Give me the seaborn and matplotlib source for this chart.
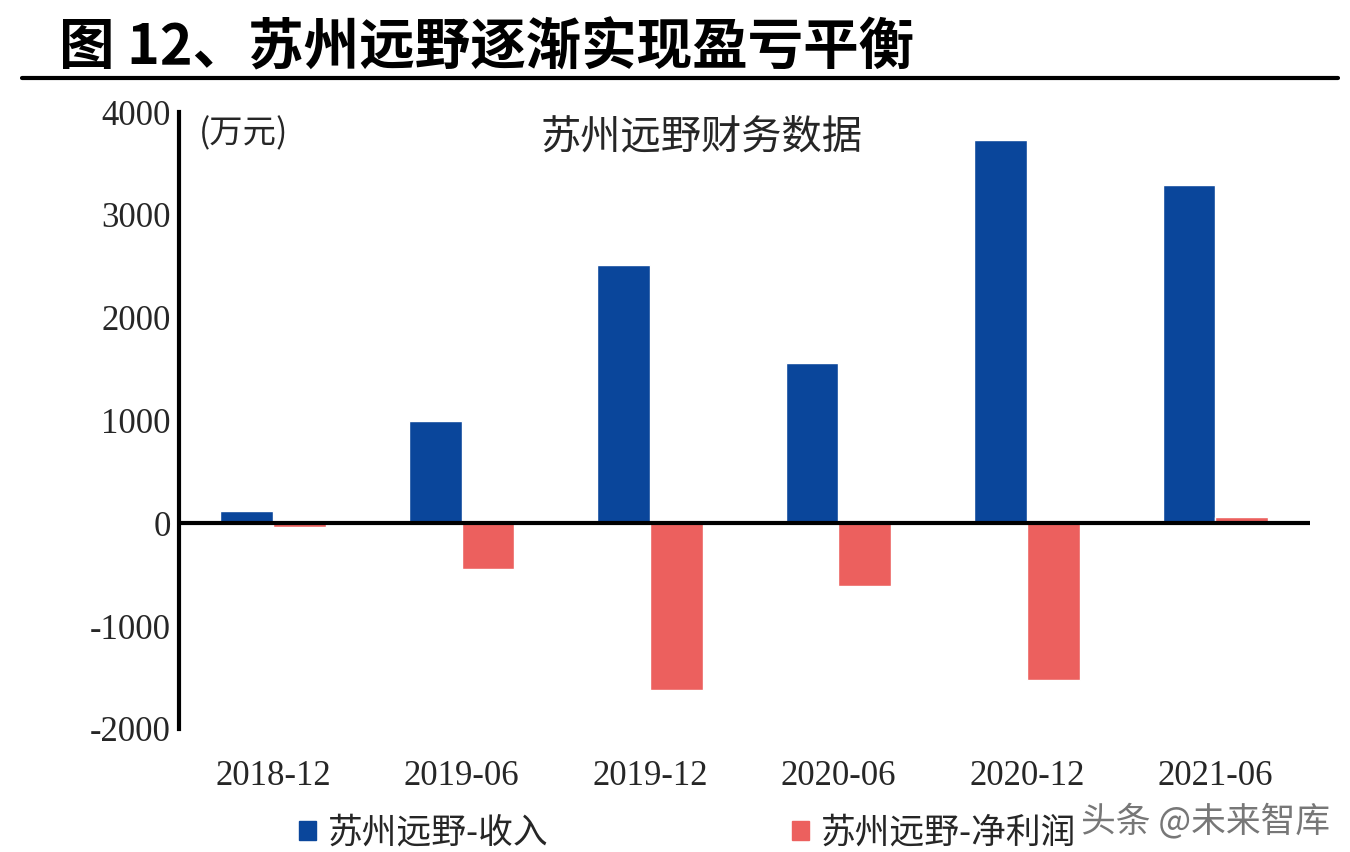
import numpy as np
import pandas as pd
import matplotlib
matplotlib.use("Agg")
import matplotlib.pyplot as plt
import seaborn as sns
from matplotlib.patches import Patch

# data (万元)
periods = ["2018-12", "2019-06", "2019-12", "2020-06", "2020-12", "2021-06"]
revenue = [120, 1000, 2510, 1560, 3730, 3290]
net_profit = [-40, -440, -1620, -610, -1520, 60]
series_names = ["苏州远野-收入", "苏州远野-净利润"]
colors = ["#0A469B", "#EC605E"]

sns.set_style("white")
plt.rcParams['font.family'] = ['Noto Sans CJK SC', 'DejaVu Sans']

df = pd.DataFrame({
    "period": periods * 2,
    "value": revenue + net_profit,
    "series": [series_names[0]] * len(periods) + [series_names[1]] * len(periods),
})

fig = plt.figure(figsize=(13.5, 8.52), dpi=100)
ax = fig.add_axes([0.1326, 0.1444, 0.8374, 0.7241])

sns.barplot(data=df, x="period", y="value", hue="series", palette=colors,
            width=0.56, saturation=1, ax=ax, legend=False)

ax.set_ylim(-2000, 4000)
ax.set_xlim(-0.5, len(periods) - 0.5)
ax.set_yticks(np.arange(-2000, 4001, 1000))
ax.set_yticklabels([str(v) for v in range(-2000, 4001, 1000)],
                   family='Liberation Serif', fontsize=25)
ax.set_xticklabels(periods, family='Liberation Serif', fontsize=25)
ax.tick_params(axis='x', length=0, pad=22)
ax.tick_params(axis='y', length=0, pad=6)
ax.set_xlabel("")
ax.set_ylabel("")

# small end ticks on the y axis
ax.set_yticks([-2000, 4000], minor=True)
ax.tick_params(axis='y', which='minor', direction='in', length=7, width=3, color='black')

for side in ["top", "right", "bottom"]:
    ax.spines[side].set_visible(False)
ax.spines["left"].set_linewidth(3)
ax.spines["left"].set_color("black")
ax.axhline(0, color="black", linewidth=3, zorder=5)

ax.text(0.018, 0.965, "(万元)", transform=ax.transAxes, fontsize=24,
        ha="left", va="center")
ax.text(0.462, 0.96, "苏州远野财务数据", transform=ax.transAxes, fontsize=29,
        ha="center", va="center")

# figure title and rule
fig.text(0.044, 0.943, "图 12、苏州远野逐渐实现盈亏平衡", fontsize=40,
         fontweight="black", ha="left", va="center", color="black")
fig.add_artist(plt.Line2D([0.016, 0.991], [0.909, 0.909], color="black",
                          linewidth=3, transform=fig.transFigure))

handles = [Patch(facecolor=c, edgecolor=c) for c in colors]
fig.legend(handles, series_names, loc="center left", bbox_to_anchor=(0.198, 0.022),
           ncol=2, frameon=False, fontsize=25, handlelength=0.5, handleheight=0.5,
           handletextpad=0.35, columnspacing=7.0)

fig.text(0.985, 0.036, "头条 @未来智库", fontsize=25, ha="right", va="center",
         color="#555555", alpha=0.8)

fig.savefig("out.png", dpi=100)
